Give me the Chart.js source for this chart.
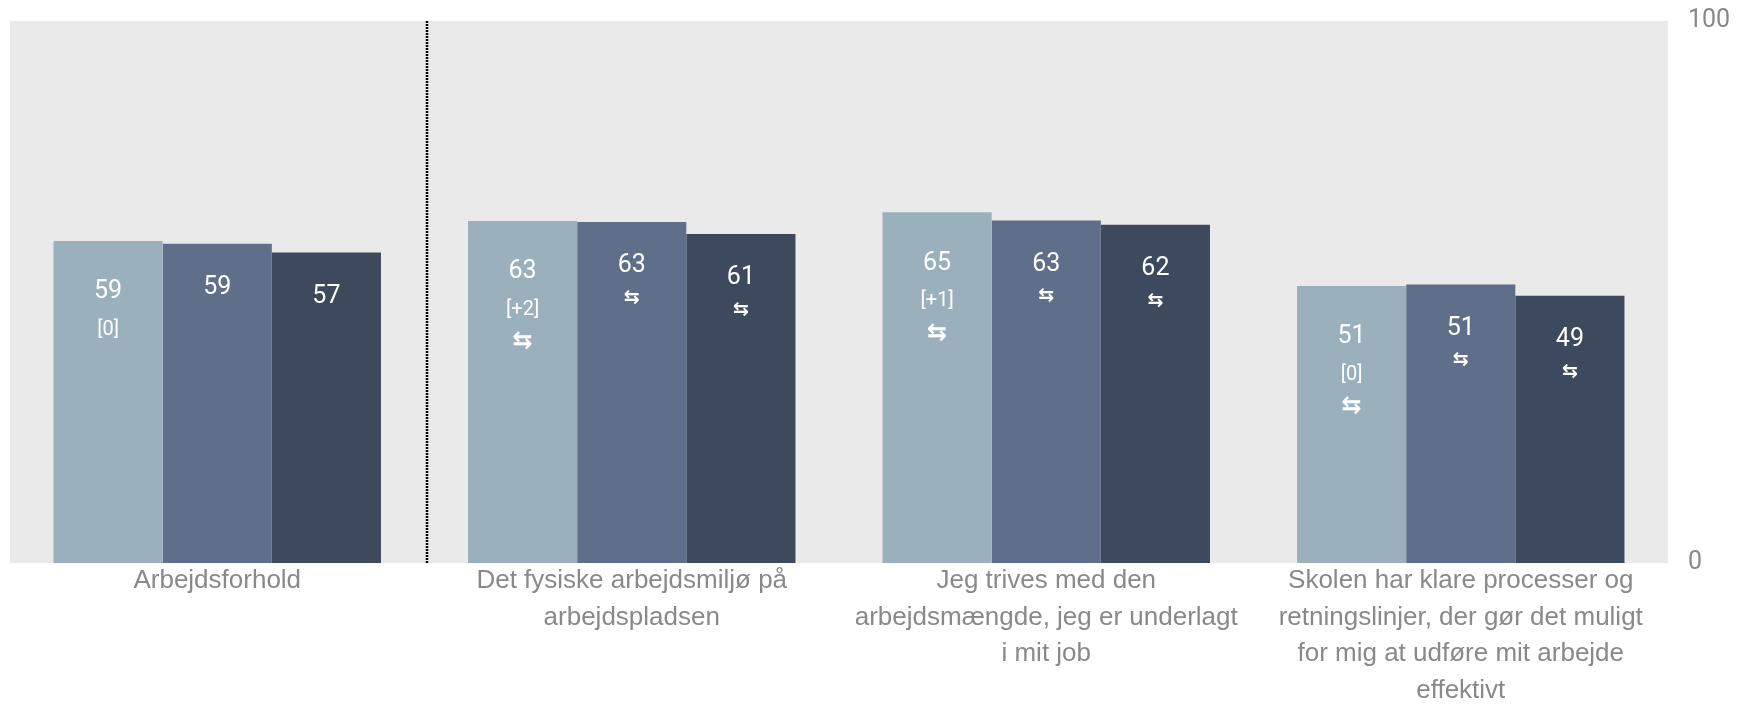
<!DOCTYPE html>
<html>
<head>
<meta charset="utf-8">
<script src="https://cdn.jsdelivr.net/npm/chart.js@4/dist/chart.umd.min.js"></script>
<style>
  html, body { margin: 0; padding: 0; background: #ffffff; }
  canvas { display: block; }
</style>
</head>
<body>
<canvas id="chart" width="1747" height="705"></canvas>
<script>
// category labels, already broken into lines as in the report
const categories = [
    ['Arbejdsforhold'],
    ['Det fysiske arbejdsmiljø på', 'arbejdspladsen'],
    ['Jeg trives med den', 'arbejdsmængde, jeg er underlagt', 'i mit job'],
    ['Skolen har klare processer og', 'retningslinjer, der gør det muligt', 'for mig at udføre mit arbejde', 'effektivt']
];

const seriesNames = ['Skolen', 'Sammenligning 1', 'Sammenligning 2'];
const schoolValues = [59.4, 63.1, 64.7, 51.1];
const compareValues1 = [58.9, 62.9, 63.2, 51.4];
const compareValues2 = [57.3, 60.7, 62.4, 49.3];

// change since last measurement, shown under the school value
const changeLabels = ['[0]', '[+2]', '[+1]', '[0]'];
// categories that carry the "no significant difference" arrows
const showArrows = [false, true, true, true];

const yTicks = [0, 100];

const colors = ['#9ab1bd', '#5f6f8a', '#3d4a5e'];
const gray = '#898989';

const backgroundPlugin = {
    id: 'background',
    beforeDatasetsDraw(chart) {
        const { ctx, chartArea, scales } = chart;
        ctx.save();
        ctx.fillStyle = '#eaeaea';
        ctx.fillRect(chartArea.left, chartArea.top, chartArea.right - chartArea.left, chartArea.bottom - chartArea.top);

        // dotted divider between the overall index and its questions
        const x = Math.round((scales.x.getPixelForValue(0) + scales.x.getPixelForValue(1)) / 2) + 2;
        ctx.strokeStyle = '#000000';
        ctx.lineWidth = 2.5;
        ctx.setLineDash([2, 1]);
        ctx.beginPath();
        ctx.moveTo(x, chartArea.top);
        ctx.lineTo(x, chartArea.bottom);
        ctx.stroke();
        ctx.restore();
    }
};

const labelPlugin = {
    id: 'barLabels',
    afterDatasetsDraw(chart) {
        const ctx = chart.ctx;
        ctx.save();
        ctx.fillStyle = '#ffffff';
        ctx.textAlign = 'center';
        ctx.textBaseline = 'middle';
        chart.data.datasets.forEach((ds, di) => {
            const meta = chart.getDatasetMeta(di);
            meta.data.forEach((bar, i) => {
                const top = bar.y;
                const x = bar.x;
                ctx.font = '25px Roboto';
                if (di === 0) {
                    ctx.fillText(Math.round(ds.data[i]), x, top + 51);
                    ctx.font = '20px Roboto';
                    ctx.fillText(changeLabels[i], x, top + 89);
                    if (showArrows[i]) {
                        ctx.font = 'bold 24px "DejaVu Sans"';
                        ctx.fillText('⇆', x, top + 121);
                    }
                } else {
                    ctx.fillText(Math.round(ds.data[i]), x, top + 44);
                    if (showArrows[i]) {
                        ctx.font = 'bold 19px "DejaVu Sans"';
                        ctx.fillText('⇆', x, top + 76);
                    }
                }
            });
        });
        ctx.restore();
    }
};

const values = [schoolValues, compareValues1, compareValues2];

new Chart(document.getElementById('chart').getContext('2d'), {
    type: 'bar',
    data: {
        labels: categories,
        datasets: values.map((v, i) => ({
            label: seriesNames[i],
            data: v,
            backgroundColor: colors[i],
            borderWidth: 0,
            barPercentage: 1,
            categoryPercentage: 0.79
        }))
    },
    options: {
        responsive: false,
        animation: false,
        layout: { padding: { left: 10, top: 21, right: 0, bottom: 0 } },
        plugins: {
            legend: { display: false },
            tooltip: { enabled: false }
        },
        scales: {
            x: {
                grid: { display: false, drawTicks: false },
                border: { display: false },
                ticks: {
                    color: gray,
                    padding: 0,
                    maxRotation: 0,
                    autoSkip: false,
                    font: { family: '"Liberation Sans", Arial, sans-serif', size: 26, lineHeight: 1.4 }
                },
                afterFit(scale) {
                    scale.height = 142;
                    scale.paddingLeft = 0;
                    scale.paddingRight = 0;
                }
            },
            y: {
                position: 'right',
                min: yTicks[0],
                max: yTicks[1],
                grid: { display: false, drawTicks: false },
                border: { display: false },
                ticks: {
                    stepSize: yTicks[1] - yTicks[0],
                    color: gray,
                    padding: 20,
                    font: { family: 'Roboto', size: 25 }
                },
                afterFit(scale) {
                    scale.width = 79;
                    scale.paddingTop = 0;
                    scale.paddingBottom = 0;
                }
            }
        }
    },
    plugins: [backgroundPlugin, labelPlugin]
});
</script>
</body>
</html>
